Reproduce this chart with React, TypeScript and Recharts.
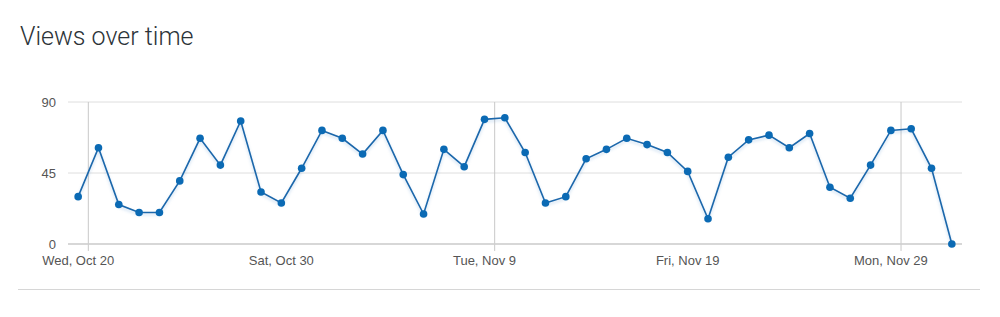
import React from 'react';
import { LineChart, Line, XAxis, YAxis, CartesianGrid, ReferenceLine } from 'recharts';

// daily views, starting Wed Oct 20
const views = [
  30, 61, 25, 20, 20, 40, 67, 50, 78, 33,
  26, 48, 72, 67, 57, 72, 44, 19, 60, 49,
  79, 80, 58, 26, 30, 54, 60, 67, 63, 58,
  46, 16, 55, 66, 69, 61, 70, 36, 29, 50,
  72, 73, 48, 0,
];

const tickDays = [0, 10, 20, 30, 40];
const tickLabels = ['Wed, Oct 20', 'Sat, Oct 30', 'Tue, Nov 9', 'Fri, Nov 19', 'Mon, Nov 29'];
const markerDays = [0, 20, 40];
const yTicks = [0, 45, 90];

const data = views.map((v, i) => ({ day: i, views: v }));

const labelFor = (d: number) => {
  const i = tickDays.indexOf(d);
  return i >= 0 ? tickLabels[i] : '';
};

export default function App() {
  return (
    <div style={{ position: 'relative', width: 1000, height: 317, margin: -8, background: '#fff', fontFamily: '"Liberation Sans", Arial, sans-serif' }}>
      <style>{`.recharts-line-curve { filter: drop-shadow(0 2px 1.5px rgba(30,110,190,0.25)); }`}</style>
      <div
        style={{
          position: 'absolute',
          left: 20,
          top: 21,
          fontFamily: 'Roboto, sans-serif',
          fontWeight: 300,
          fontSize: 25,
          color: '#2c3338',
          lineHeight: '32px',
        }}
      >
        Views over time
      </div>
      <div style={{ position: 'absolute', left: 0, top: 0 }}>
        <LineChart width={1000} height={280} data={data} margin={{ top: 102, right: 38, left: 0, bottom: 6 }}>
          <CartesianGrid vertical={false} stroke="#dedede" />
          <XAxis
            dataKey="day"
            type="number"
            domain={[-0.5, 43.5]}
            ticks={tickDays}
            tickFormatter={labelFor}
            allowDataOverflow
            height={30}
            tickLine={false}
            tickMargin={6}
            axisLine={{ stroke: '#cfcfcf', strokeWidth: 1.5 }}
            tick={{ fontSize: 13, fill: '#555' }}
          />
          <YAxis
            domain={[0, 90]}
            ticks={yTicks}
            width={68}
            axisLine={false}
            tickLine={false}
            tickMargin={6}
            tick={{ fontSize: 13, fill: '#555' }}
          />
          {markerDays.map((d) => (
            <ReferenceLine
              key={d}
              segment={[{ x: d + 0.5, y: 90 }, { x: d + 0.5, y: -4.4 }]}
              ifOverflow="visible"
              stroke="#c8c8c8"
            />
          ))}
          <Line
            type="linear"
            dataKey="views"
            stroke="#1b67ab"
            strokeWidth={1.6}
            dot={{ r: 3.8, fill: '#0b6ab4', stroke: 'none' }}
            isAnimationActive={false}
          />
        </LineChart>
      </div>
      <div style={{ position: 'absolute', left: 18, top: 289, width: 962, height: 1, background: '#d6d6d6' }} />
    </div>
  );
}
